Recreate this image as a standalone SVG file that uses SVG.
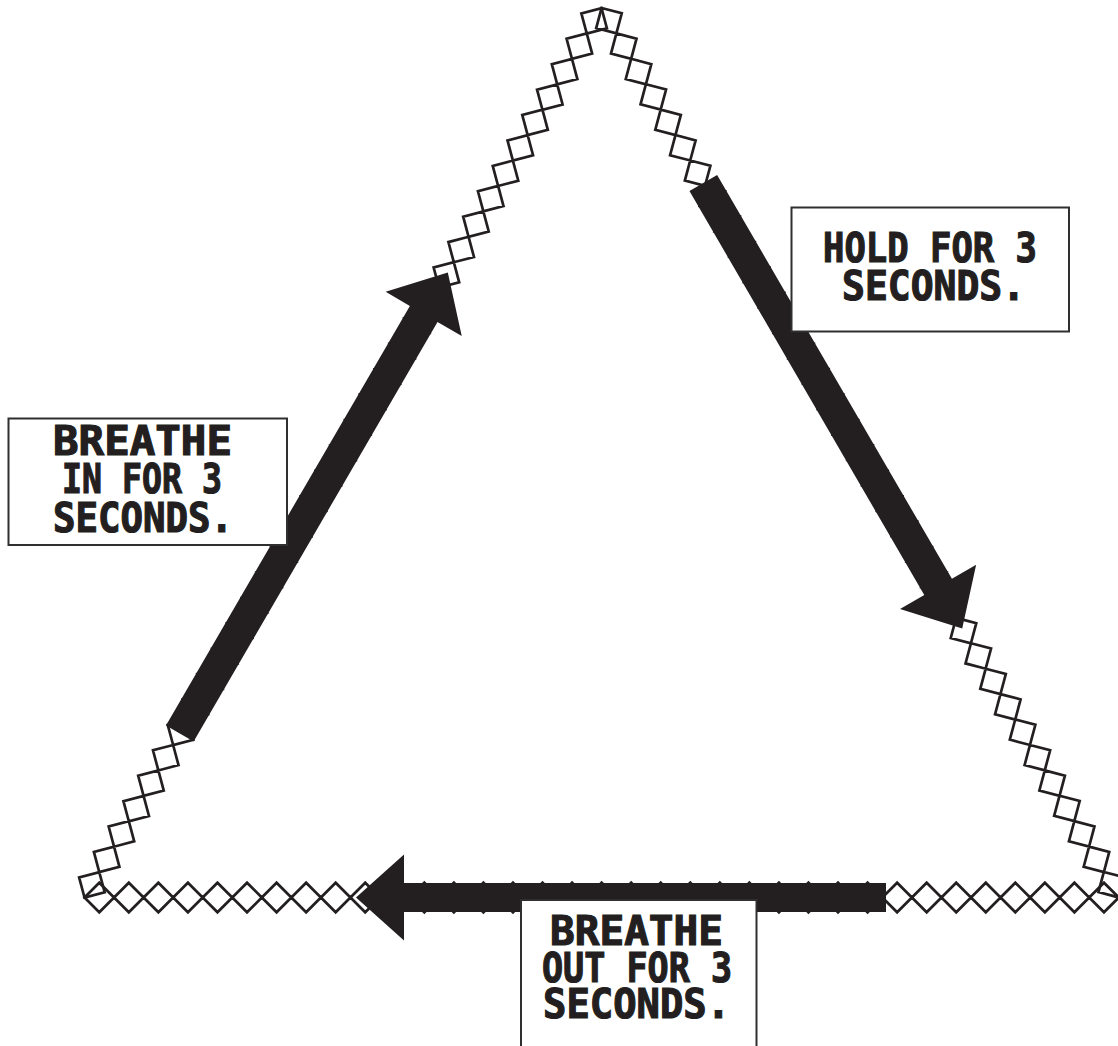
<svg xmlns="http://www.w3.org/2000/svg" xmlns:xlink="http://www.w3.org/1999/xlink" width="1118" height="1046" viewBox="0 0 1118 1046">
<style>
.chain{fill:none;stroke:#231f20;stroke-width:2.7;stroke-linejoin:miter}
.arrow{fill:#231f20;stroke:none}
.box{fill:#ffffff;stroke:#2f2f2f;stroke-width:2}
.lbl{font-family:"DejaVu Sans Mono","Liberation Mono",monospace;font-weight:bold;fill:#231f20;stroke:#231f20;stroke-width:1.2;font-size:40px}
</style>
<defs>
<path id="chain" class="chain" d="M0 0l14.775-14.775 14.775 14.775-14.775 14.775zm29.55 0l14.775-14.775 14.775 14.775-14.775 14.775zm29.55 0l14.775-14.775 14.775 14.775-14.775 14.775zm29.55 0l14.775-14.775 14.775 14.775-14.775 14.775zm29.55 0l14.775-14.775 14.775 14.775-14.775 14.775zm29.55 0
l14.775-14.775 14.775 14.775-14.775 14.775zm29.55 0l14.775-14.775 14.775 14.775-14.775 14.775zm29.55 0l14.775-14.775 14.775 14.775-14.775 14.775zm29.55 0l14.775-14.775 14.775 14.775-14.775 14.775zm29.55 0l14.775-14.775 14.775 14.775-14.775 14.775zm29.55 0
l14.775-14.775 14.775 14.775-14.775 14.775zm29.55 0l14.775-14.775 14.775 14.775-14.775 14.775zm29.55 0l14.775-14.775 14.775 14.775-14.775 14.775zm29.55 0l14.775-14.775 14.775 14.775-14.775 14.775zm29.55 0l14.775-14.775 14.775 14.775-14.775 14.775zm29.55 0
l14.775-14.775 14.775 14.775-14.775 14.775zm29.55 0l14.775-14.775 14.775 14.775-14.775 14.775zm29.55 0l14.775-14.775 14.775 14.775-14.775 14.775zm29.55 0l14.775-14.775 14.775 14.775-14.775 14.775zm29.55 0l14.775-14.775 14.775 14.775-14.775 14.775zm29.55 0
l14.775-14.775 14.775 14.775-14.775 14.775zm29.55 0l14.775-14.775 14.775 14.775-14.775 14.775zm29.55 0l14.775-14.775 14.775 14.775-14.775 14.775zm29.55 0l14.775-14.775 14.775 14.775-14.775 14.775zm29.55 0l14.775-14.775 14.775 14.775-14.775 14.775zm29.55 0
l14.775-14.775 14.775 14.775-14.775 14.775zm29.55 0l14.775-14.775 14.775 14.775-14.775 14.775zm29.55 0l14.775-14.775 14.775 14.775-14.775 14.775zm29.55 0l14.775-14.775 14.775 14.775-14.775 14.775zm29.55 0l14.775-14.775 14.775 14.775-14.775 14.775zm29.55 0
l14.775-14.775 14.775 14.775-14.775 14.775zm29.55 0l14.775-14.775 14.775 14.775-14.775 14.775zm29.55 0l14.775-14.775 14.775 14.775-14.775 14.775zm29.55 0l14.775-14.775 14.775 14.775-14.775 14.775zm29.55 0l14.775-14.775 14.775 14.775-14.775 14.775z"/>
</defs>
<rect width="1118" height="1046" fill="#ffffff"/>
<g id="triangle">
<use xlink:href="#chain" href="#chain" transform="translate(84.5,897.5)"/>
<use xlink:href="#chain" href="#chain" transform="translate(84.5,897.5) rotate(-59.83) scale(0.9947,1)"/>
<use xlink:href="#chain" href="#chain" transform="translate(601.6,8) rotate(59.83) scale(0.9947,1)"/>
</g>
<g id="connectors">
<polygon class="arrow" points="0,-16 485.3,-16 485.3,-44 533.3,0 485.3,44 485.3,16 0,16" transform="translate(179.8,733.5) rotate(-59.83)"/>
<polygon class="arrow" points="0,-16 467.2,-16 467.2,-44 515.2,0 467.2,44 467.2,16 0,16" transform="translate(703.3,183) rotate(59.83)"/>
<polygon class="arrow" points="0,-14.5 482,-14.5 482,-43 530,0 482,43 482,14.5 0,14.5" transform="translate(886,897.5) rotate(180)"/>
</g>
<g id="node-hold">
<rect class="box" x="791.5" y="207.5" width="277.5" height="124"/>
<text class="lbl" x="823" y="261.5" textLength="214" lengthAdjust="spacingAndGlyphs">HOLD FOR 3</text>
<text class="lbl" x="842" y="300" textLength="183" lengthAdjust="spacingAndGlyphs">SECONDS.</text>
</g>
<g id="node-breathe-in">
<rect class="box" x="8.5" y="418.5" width="278.5" height="126.5"/>
<text class="lbl" x="53" y="455" textLength="179" lengthAdjust="spacingAndGlyphs">BREATHE</text>
<text class="lbl" x="62" y="493" textLength="160" lengthAdjust="spacingAndGlyphs">IN FOR 3</text>
<text class="lbl" x="53" y="531.5" textLength="180" lengthAdjust="spacingAndGlyphs">SECONDS.</text>
</g>
<g id="node-breathe-out">
<rect class="box" x="521" y="900" width="235.5" height="160"/>
<text class="lbl" x="550" y="945" textLength="173" lengthAdjust="spacingAndGlyphs">BREATHE</text>
<text class="lbl" x="542" y="981.5" textLength="190" lengthAdjust="spacingAndGlyphs">OUT FOR 3</text>
<text class="lbl" x="543" y="1018" textLength="187" lengthAdjust="spacingAndGlyphs">SECONDS.</text>
</g>
</svg>
